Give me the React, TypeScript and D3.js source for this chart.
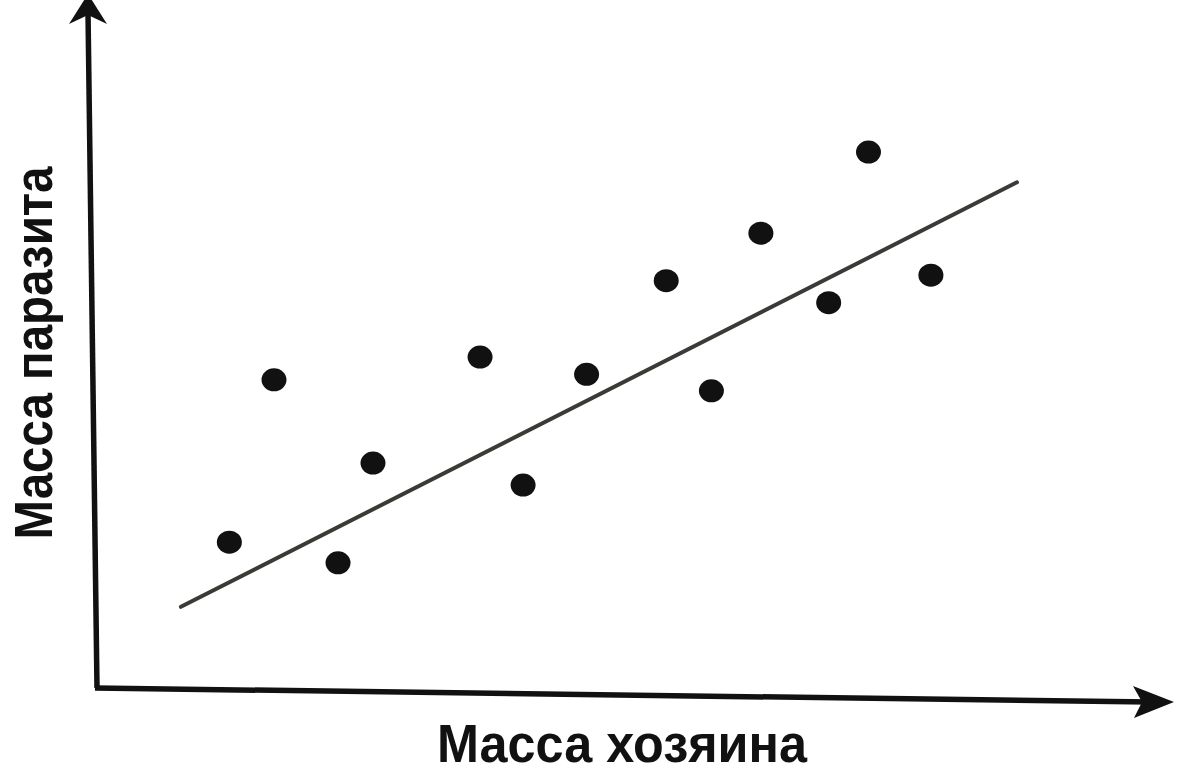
import React from "react";
import * as d3 from "d3";

// Data (host mass vs parasite mass, arbitrary units)
const hostMass = [12.3, 16.45, 22.4, 25.65, 35.6, 39.6, 45.5, 52.9, 57.1, 61.7, 68.0, 71.7, 77.5];
const parasiteMass = [21.2, 44.8, 18.2, 32.7, 48.1, 29.5, 45.6, 59.2, 43.2, 66.1, 56.0, 77.9, 60.0];
const trendX = [7.8, 85.5];
const trendY = [11.8, 73.5];
const xLabel = "Масса хозяина";
const yLabel = "Масса паразита";

const W = 1178;
const H = 774;

export default function App() {
  const x = d3.scaleLinear().domain([0, 100]).range([97, 1173]);
  const y = d3.scaleLinear().domain([0, 100]).range([688, 0]);

  const points = hostMass.map((v, i) => ({ x: v, y: parasiteMass[i] }));
  const trend = trendX.map((v, i) => [v, trendY[i]] as [number, number]);
  const line = d3
    .line<[number, number]>()
    .x((d) => x(d[0]))
    .y((d) => y(d[1]));

  return (
    <svg
      width={W}
      height={H}
      viewBox={`0 0 ${W} ${H}`}
      style={{ position: "fixed", left: 0, top: 0, background: "#fff", display: "block" }}
    >
      <rect x={0} y={0} width={W} height={H} fill="#fff" />
      {/* axes */}
      <line x1={97} y1={688} x2={88} y2={12} stroke="#111" strokeWidth={5.5} />
      <path d="M88,-6 L69,24 L88,15 L107,24 Z" fill="#111" />
      <line x1={95} y1={688} x2={1150} y2={702} stroke="#111" strokeWidth={5.5} />
      <path d="M1174,702 L1133,686 L1142,702 L1134,718 Z" fill="#111" />

      {/* trend line */}
      <path d={line(trend) || ""} fill="none" stroke="#3a3a36" strokeWidth={4} strokeLinecap="round" />

      {/* points */}
      {points.map((p, i) => (
        <ellipse key={i} cx={x(p.x)} cy={y(p.y)} rx={12.5} ry={11.5} fill="#111" />
      ))}

      {/* labels */}
      <text
        x={622}
        y={762}
        textAnchor="middle"
        fontFamily="'Liberation Sans', Arial, sans-serif"
        fontWeight="bold"
        fontSize={53}
        fill="#111"
        textLength={370}
        lengthAdjust="spacingAndGlyphs"
      >
        {xLabel}
      </text>
      <text
        transform="translate(52,353) rotate(-90)"
        textAnchor="middle"
        fontFamily="'Liberation Sans', Arial, sans-serif"
        fontWeight="bold"
        fontSize={53}
        fill="#111"
        textLength={373}
        lengthAdjust="spacingAndGlyphs"
      >
        {yLabel}
      </text>
    </svg>
  );
}
